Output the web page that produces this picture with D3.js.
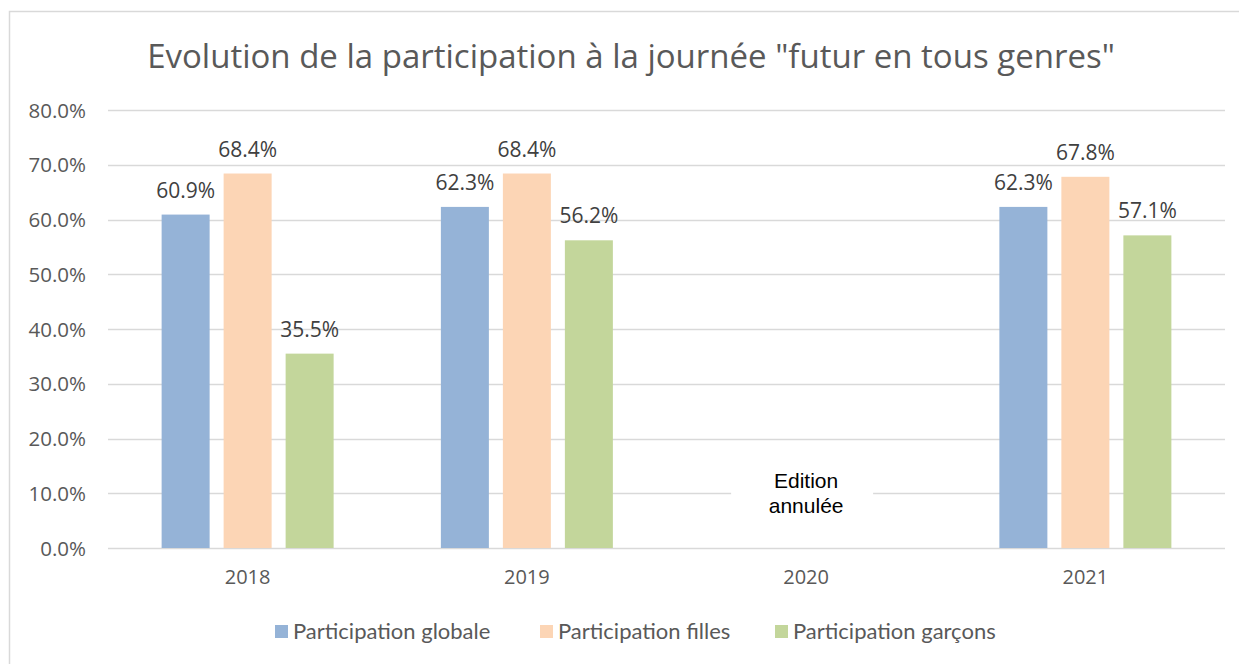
<!DOCTYPE html>
<html>
<head>
<meta charset="utf-8">
<script src="https://cdn.jsdelivr.net/npm/d3@7"></script>
<style>
  body { margin: 0; background: #fff; }
  svg { display: block; }
</style>
</head>
<body>
<div id="chart"></div>
<script>
// Data
const years = ['2018', '2019', '2020', '2021'];
const seriesNames = ['Participation globale', 'Participation filles', 'Participation garçons'];
const globale = [60.9, 62.3, null, 62.3];
const filles = [68.4, 68.4, null, 67.8];
const garcons = [35.5, 56.2, null, 57.1];
const yTicks = [0, 10, 20, 30, 40, 50, 60, 70, 80];
const colors = ['#95B3D7', '#FCD5B5', '#C3D69B'];
const cancelledYear = '2020';
const cancelledText = ['Edition', 'annulée'];

const width = 1239, height = 664;
const margin = { top: 110, right: 14, bottom: 116, left: 108 };
const innerWidth = width - margin.left - margin.right;
const innerHeight = height - margin.top - margin.bottom;

const svg = d3.select('#chart').append('svg')
    .attr('width', width)
    .attr('height', height);

// Chart area border (right and bottom sides fall outside the picture)
svg.append('path')
    .attr('d', `M9.5,${height}V11.5H${width}`)
    .attr('fill', 'none')
    .attr('stroke', '#D9D9D9')
    .attr('stroke-width', 1.5);

// Title
svg.append('text')
    .attr('x', 631)
    .attr('y', 68)
    .attr('text-anchor', 'middle')
    .attr('font-family', '"Open Sans", sans-serif')
    .attr('font-size', 33)
    .attr('fill', '#595959')
    .text('Evolution de la participation à la journée "futur en tous genres"');

const g = svg.append('g').attr('transform', `translate(${margin.left},${margin.top})`);

const x = d3.scaleBand().domain(years).range([0, innerWidth]);
const y = d3.scaleLinear().domain([0, 80]).range([innerHeight, 0]);

// Gridlines
g.selectAll('.grid')
    .data(yTicks)
    .enter().append('line')
    .attr('class', 'grid')
    .attr('x1', 0).attr('x2', innerWidth)
    .attr('y1', d => Math.round(y(d)) + 0.5)
    .attr('y2', d => Math.round(y(d)) + 0.5)
    .attr('stroke', '#D9D9D9')
    .attr('stroke-width', 1.5);

// Y axis labels
const yAxis = g.append('g')
    .call(d3.axisLeft(y).tickValues(yTicks).tickFormat(d => d.toFixed(1) + '%').tickSize(0).tickPadding(22));
yAxis.select('.domain').remove();
yAxis.selectAll('.tick line').remove();
yAxis.attr('font-size', null).attr('font-family', null).attr('fill', null);
yAxis.selectAll('text')
    .attr('dy', 7)
    .attr('fill', '#595959')
    .attr('font-family', '"Open Sans", sans-serif')
    .attr('font-size', 20.5);

// X axis labels
const xAxis = g.append('g')
    .attr('transform', `translate(0,${innerHeight})`)
    .call(d3.axisBottom(x).tickSize(0).tickPadding(22));
xAxis.select('.domain').remove();
xAxis.selectAll('.tick line').remove();
xAxis.attr('font-size', null).attr('font-family', null).attr('fill', null);
xAxis.selectAll('text')
    .attr('dy', 14)
    .attr('fill', '#595959')
    .attr('font-family', '"Open Sans", sans-serif')
    .attr('font-size', 20);

// Bars
const series = [globale, filles, garcons];
const barWidth = 48, barStep = 62;
const rows = [];
series.forEach((vals, si) => {
    vals.forEach((v, i) => {
        if (v !== null) rows.push({ year: years[i], value: v, s: si });
    });
});
const barX = d => x(d.year) + x.bandwidth() / 2 + (d.s - 1) * barStep - barWidth / 2;

g.selectAll('.bar')
    .data(rows)
    .enter().append('rect')
    .attr('class', 'bar')
    .attr('x', barX)
    .attr('y', d => y(d.value))
    .attr('width', barWidth)
    .attr('height', d => innerHeight - y(d.value))
    .attr('fill', d => colors[d.s]);

// Data labels
g.selectAll('.label')
    .data(rows)
    .enter().append('text')
    .attr('class', 'label')
    .attr('x', d => barX(d) + barWidth / 2)
    .attr('y', d => y(d.value) - 17)
    .attr('text-anchor', 'middle')
    .attr('font-family', '"Open Sans", sans-serif')
    .attr('font-size', 21)
    .attr('fill', '#404040')
    .text(d => d.value.toFixed(1) + '%');

// Cancelled edition note
const cx = x(cancelledYear) + x.bandwidth() / 2;
g.append('rect')
    .attr('x', cx - 75)
    .attr('y', y(12) - 2)
    .attr('width', 142)
    .attr('height', 44)
    .attr('fill', '#fff');
g.selectAll('.note')
    .data(cancelledText)
    .enter().append('text')
    .attr('class', 'note')
    .attr('x', cx)
    .attr('y', (d, i) => y(10) - 5 + i * 25)
    .attr('text-anchor', 'middle')
    .attr('font-family', '"Liberation Sans", Arial, sans-serif')
    .attr('font-size', 21)
    .attr('fill', '#000')
    .text(d => d);

// Legend
const legendX = [275, 540, 775];
const legend = svg.append('g').attr('transform', 'translate(0,631)');
const items = legend.selectAll('.item')
    .data(seriesNames)
    .enter().append('g')
    .attr('class', 'item')
    .attr('transform', (d, i) => `translate(${legendX[i]},0)`);
items.append('rect')
    .attr('x', 0).attr('y', -6)
    .attr('width', 13).attr('height', 13)
    .attr('fill', (d, i) => colors[i]);
items.append('text')
    .attr('x', 18)
    .attr('y', 8)
    .attr('font-family', 'Lato, sans-serif')
    .attr('font-size', 22)
    .attr('fill', '#595959')
    .text(d => d);
</script>
</body>
</html>
